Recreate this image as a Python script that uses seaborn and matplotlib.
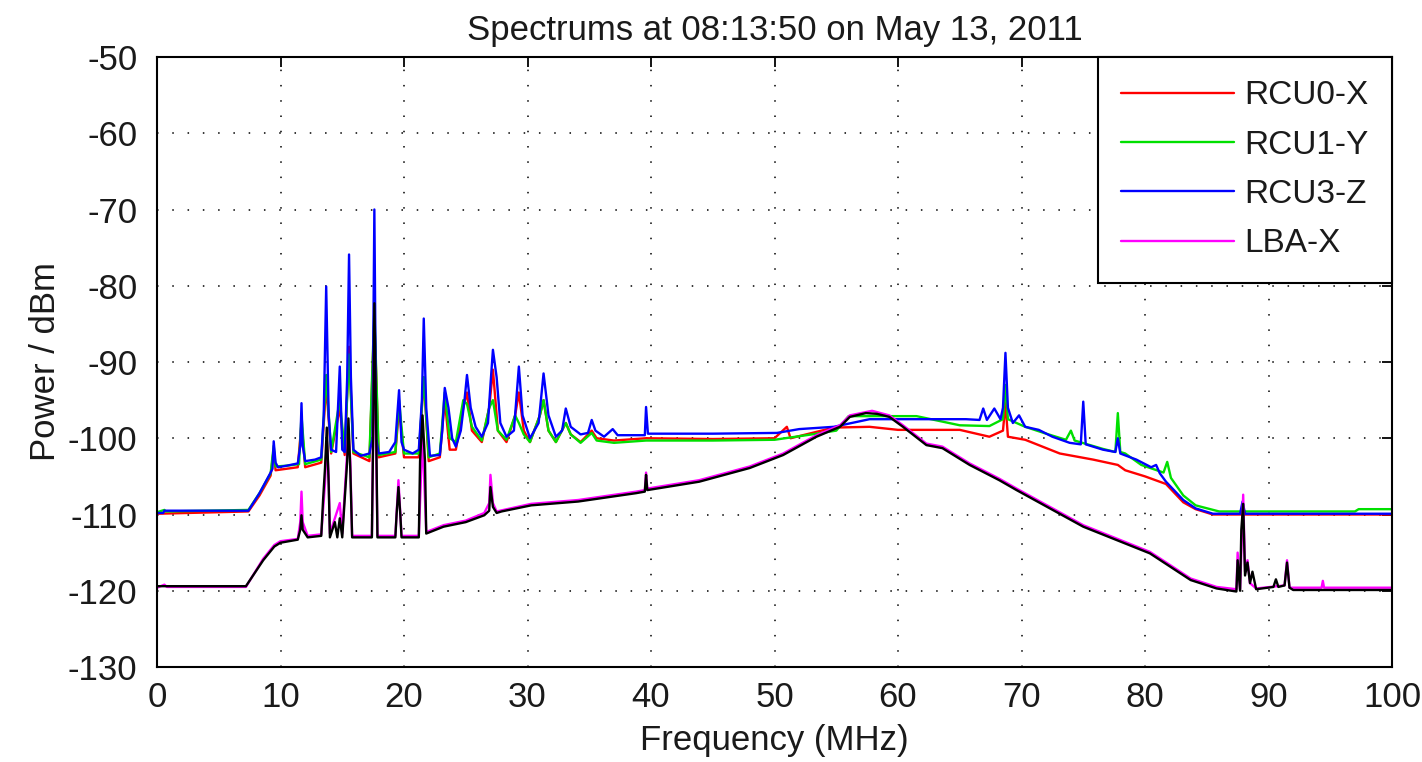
import matplotlib
matplotlib.use("Agg")
import matplotlib.pyplot as plt
import seaborn as sns
import pandas as pd

# ---------------- data: (frequency MHz, power dBm) ----------------
rcu0_x_points = [
    (0, -109.9), (7.4, -109.6), (8.3, -107.5), (9.2, -104.9), (9.45, -101.5), (9.6, -104.2),
    (10.5, -104.0), (11.4, -103.8), (11.7, -98.0), (12.0, -103.8), (13.3, -103.2), (13.7, -93.0),
    (14.1, -102.0), (14.8, -96.0), (15.2, -102.2), (15.55, -88.0), (15.9, -102.0), (17.2, -103.0),
    (17.6, -84.0), (17.95, -102.5), (19.3, -102.0), (19.6, -96.0), (20.0, -102.5), (21.2, -102.5),
    (21.6, -92.0), (22.0, -103.0), (22.9, -102.5), (23.3, -95.0), (23.7, -101.5), (24.2, -101.5),
    (24.8, -96.0), (25.1, -94.0), (25.5, -99.0), (26.3, -100.5), (26.9, -96.0), (27.2, -91.0),
    (27.6, -99.0), (28.3, -100.5), (29.0, -97.0), (29.3, -94.0), (29.7, -99.0), (30.2, -100.5),
    (31.0, -97.0), (31.3, -95.0), (31.7, -99.0), (32.3, -100.5), (33.1, -98.0), (33.5, -99.5),
    (34.3, -100.5), (35.2, -99.0), (35.6, -100.0), (37.0, -100.3), (39.6, -100.0), (45.0, -100.1),
    (50.0, -100.0), (51.0, -98.5), (51.3, -100.0), (54.8, -98.6), (57.7, -98.5), (60.0, -98.9),
    (65.0, -98.9), (67.4, -99.8), (68.5, -99.0), (68.7, -95.4), (68.9, -99.8), (70.3, -100.2),
    (73.1, -102.0), (75.8, -102.8), (77.8, -103.5), (78.4, -104.2), (80.0, -105.0), (81.7, -106.0),
    (83.1, -108.4), (84.1, -109.3), (85.5, -110.0), (100.0, -110.0),
]

rcu1_y_points = [
    (0, -109.7), (0.6, -109.4), (0.7, -109.6), (7.4, -109.4), (8.3, -107.2), (9.2, -104.6),
    (9.45, -101.0), (9.6, -103.7), (10.5, -103.6), (11.5, -103.4), (11.7, -97.0), (12.0, -103.4),
    (13.3, -102.8), (13.7, -91.7), (14.1, -101.8), (14.8, -95.0), (15.2, -101.8), (15.55, -89.0),
    (15.9, -101.8), (17.2, -102.5), (17.6, -83.0), (17.95, -102.2), (19.3, -101.8), (19.6, -95.0),
    (20.0, -102.0), (21.2, -102.0), (21.6, -92.0), (22.0, -102.5), (22.9, -102.0), (23.3, -94.0),
    (23.7, -100.0), (24.2, -100.5), (24.8, -95.0), (25.1, -95.5), (25.5, -98.5), (26.3, -100.3),
    (26.9, -96.0), (27.2, -95.0), (27.6, -99.0), (28.3, -100.2), (29.0, -97.0), (29.3, -98.0),
    (29.7, -99.5), (30.2, -100.5), (31.0, -97.0), (31.3, -95.0), (31.7, -99.0), (32.3, -100.5),
    (33.1, -98.0), (33.5, -99.5), (34.3, -100.6), (35.2, -99.3), (35.6, -100.3), (37.0, -100.6),
    (39.6, -100.3), (45.0, -100.3), (50.0, -100.2), (53.0, -99.5), (55.0, -99.0), (56.0, -97.1),
    (61.5, -97.1), (65.0, -98.3), (67.4, -98.4), (68.5, -97.5), (68.7, -93.0), (68.9, -97.5),
    (70.3, -98.5), (71.8, -99.3), (73.6, -100.2), (74.0, -99.0), (74.3, -100.3), (76.6, -101.4),
    (77.6, -101.8), (77.8, -96.7), (78.0, -101.8), (78.4, -102.0), (79.7, -103.5), (81.5, -104.5),
    (81.8, -103.1), (82.1, -105.2), (83.1, -107.5), (84.1, -108.8), (86.0, -109.6), (97.0, -109.6),
    (97.3, -109.3), (100.0, -109.3),
]

rcu3_z_points = [
    (0, -109.8), (0.5, -109.8), (0.6, -109.5), (7.4, -109.5), (8.3, -107.2), (9.2, -104.5),
    (9.35, -104.0), (9.45, -100.4), (9.6, -103.2), (9.8, -103.8), (10.5, -103.6), (11.4, -103.3),
    (11.6, -101.0), (11.7, -95.4), (11.8, -101.0), (12.0, -103.0), (12.8, -102.8), (13.3, -102.5),
    (13.5, -97.0), (13.7, -80.1), (13.9, -97.0), (14.1, -101.5), (14.5, -101.8), (14.8, -90.6),
    (15.0, -101.5), (15.2, -101.8), (15.4, -92.0), (15.55, -75.9), (15.7, -92.0), (15.9, -101.5),
    (16.5, -102.3), (17.2, -102.0), (17.45, -100.0), (17.6, -70.0), (17.75, -100.0), (17.95, -102.0),
    (18.8, -101.8), (19.3, -100.5), (19.6, -93.7), (19.8, -100.5), (20.0, -101.5), (20.7, -102.0),
    (21.2, -101.5), (21.45, -95.0), (21.6, -84.3), (21.8, -96.0), (22.1, -102.3), (22.9, -102.2),
    (23.1, -99.0), (23.3, -93.4), (23.6, -96.0), (23.9, -100.0), (24.2, -101.1), (24.6, -99.0),
    (24.9, -95.0), (25.1, -91.7), (25.4, -96.0), (25.8, -98.5), (26.3, -99.8), (26.8, -98.0),
    (27.0, -93.0), (27.2, -88.4), (27.5, -92.0), (27.8, -98.0), (28.3, -99.8), (28.9, -99.0),
    (29.3, -90.6), (29.6, -97.0), (30.2, -100.0), (30.9, -98.0), (31.3, -91.5), (31.7, -97.0),
    (32.3, -99.8), (32.8, -99.0), (33.1, -96.1), (33.5, -98.5), (34.3, -99.5), (34.9, -99.3),
    (35.2, -97.6), (35.5, -99.0), (36.2, -99.8), (36.9, -98.8), (37.3, -99.6), (39.5, -99.6),
    (39.6, -95.9), (39.75, -99.4), (45.0, -99.4), (50.2, -99.3), (52.0, -98.8), (54.8, -98.5),
    (57.7, -97.5), (60.0, -97.5), (65.5, -97.5), (66.6, -97.6), (66.9, -96.1), (67.2, -97.6),
    (67.8, -96.1), (68.3, -97.5), (68.5, -96.0), (68.7, -88.8), (68.9, -96.0), (69.3, -98.0),
    (69.8, -97.0), (70.3, -98.5), (71.4, -98.9), (72.5, -99.8), (73.9, -100.6), (74.8, -100.8),
    (75.0, -95.2), (75.2, -100.8), (76.6, -101.5), (77.6, -101.8), (77.8, -100.0), (78.0, -102.0),
    (79.3, -102.8), (80.5, -103.8), (80.9, -103.5), (81.2, -104.6), (81.7, -105.7), (83.1, -108.1),
    (84.1, -109.2), (85.5, -109.9), (87.7, -109.9), (87.9, -108.3), (88.1, -109.9), (100.0, -109.9),
]

lba_x_points = [
    (0, -119.6), (0.6, -119.2), (0.8, -119.5), (7.2, -119.5), (8.6, -115.8), (9.5, -114.0),
    (10.0, -113.5), (11.4, -113.2), (11.6, -111.0), (11.7, -107.0), (11.8, -111.0), (12.2, -112.8),
    (13.3, -112.6), (13.6, -106.0), (13.75, -100.0), (13.9, -105.0), (14.0, -112.5), (14.8, -108.5),
    (15.0, -112.5), (15.3, -104.5), (15.5, -99.0), (15.65, -103.0), (15.8, -112.8), (17.4, -112.8),
    (17.6, -86.0), (17.85, -112.8), (19.3, -112.8), (19.55, -105.5), (19.8, -112.8), (21.2, -112.8),
    (21.5, -99.5), (21.8, -112.3), (23.2, -111.4), (25.0, -110.8), (26.5, -109.8), (26.9, -108.5),
    (27.0, -104.8), (27.2, -108.5), (27.5, -109.6), (30.3, -108.6), (34.1, -108.1), (38.8, -107.0),
    (39.5, -106.8), (39.6, -104.5), (39.7, -106.6), (43.9, -105.5), (48.0, -103.7), (50.7, -102.0),
    (53.4, -99.6), (55.3, -98.3), (56.1, -97.0), (57.9, -96.4), (59.3, -97.0), (60.4, -98.3),
    (62.3, -100.7), (63.6, -101.1), (65.8, -103.3), (68.2, -105.3), (69.6, -106.6), (75.0, -111.4),
    (80.4, -114.9), (83.7, -118.4), (85.8, -119.5), (87.4, -119.8), (87.5, -115.0), (87.7, -119.8),
    (87.95, -107.4), (88.1, -117.5), (88.3, -116.0), (88.5, -119.0), (89.0, -119.7), (91.3, -119.3),
    (91.5, -116.0), (91.7, -119.6), (94.3, -119.6), (94.4, -118.7), (94.5, -119.6), (100.0, -119.6),
]

extra_black_points = [
    (0, -119.4), (7.2, -119.4), (8.6, -116.0), (9.5, -114.2), (10.0, -113.7), (11.4, -113.3),
    (11.6, -112.0), (11.7, -110.1), (11.8, -112.0), (12.2, -113.0), (13.3, -112.8), (13.45, -108.0),
    (13.6, -104.0), (13.75, -98.6), (13.9, -106.0), (14.0, -113.0), (14.4, -111.0), (14.6, -113.0),
    (14.8, -110.5), (15.0, -113.0), (15.2, -108.0), (15.4, -103.0), (15.5, -97.4), (15.65, -104.0),
    (15.8, -113.0), (17.4, -113.0), (17.5, -100.0), (17.6, -82.3), (17.75, -99.0), (17.85, -113.0),
    (19.3, -113.0), (19.4, -110.0), (19.55, -106.4), (19.7, -110.0), (19.8, -113.0), (21.2, -113.0),
    (21.3, -103.0), (21.5, -97.0), (21.7, -103.0), (21.8, -112.5), (23.2, -111.6), (25.0, -111.0),
    (26.5, -110.1), (26.9, -109.5), (27.0, -106.4), (27.2, -109.0), (27.5, -109.8), (27.9, -109.6),
    (30.3, -108.8), (34.1, -108.3), (38.8, -107.2), (39.5, -107.0), (39.6, -104.8), (39.7, -106.8),
    (43.9, -105.7), (48.0, -103.9), (50.7, -102.2), (53.4, -99.8), (55.3, -98.5), (56.1, -97.2),
    (57.4, -96.7), (58.3, -96.8), (59.3, -97.2), (60.4, -98.5), (62.3, -100.9), (63.6, -101.3),
    (65.8, -103.5), (68.2, -105.5), (69.6, -106.8), (75.0, -111.6), (80.4, -115.1), (83.7, -118.6),
    (85.8, -119.7), (87.4, -120.1), (87.5, -116.0), (87.7, -120.0), (87.8, -112.0), (87.95, -108.6),
    (88.1, -118.0), (88.3, -116.3), (88.5, -119.0), (88.7, -117.5), (89.0, -119.8), (90.4, -119.5),
    (90.6, -118.5), (90.8, -119.5), (91.3, -119.3), (91.5, -116.3), (91.7, -119.6), (92.0, -119.9),
    (100.0, -119.9),
]

series_labels = ["RCU0-X", "RCU1-Y", "RCU3-Z", "LBA-X", None]
series_colors = ["#ff0000", "#00e000", "#0000ff", "#ff00ff", "#000000"]
x_ticks = list(range(0, 101, 10))
y_ticks = list(range(-130, -49, 10))
title_text = "Spectrums at 08:13:50 on May 13, 2011"
x_label = "Frequency (MHz)"
y_label = "Power / dBm"

# ---------------- drawing ----------------
sns.set_style("white")
plt.rcParams['font.family'] = ['Liberation Sans', 'DejaVu Sans']
plt.rcParams['axes.unicode_minus'] = False
text_color = "#1a1a1a"

fig = plt.figure(figsize=(14.22, 7.62), dpi=100)
ax = fig.add_axes([157 / 1422, 1 - 667 / 762, (1392 - 157) / 1422, (667 - 57) / 762])

all_points = [rcu0_x_points, rcu1_y_points, rcu3_z_points, lba_x_points, extra_black_points]
handles = []
for pts, lab, col in zip(all_points, series_labels, series_colors):
    df = pd.DataFrame(pts, columns=["freq", "dbm"])
    n_before = len(ax.lines)
    sns.lineplot(data=df, x="freq", y="dbm", color=col, linewidth=1.7, ax=ax,
                 estimator=None, sort=False, legend=False)
    if lab is not None:
        handles.append((ax.lines[n_before], lab))

ax.set_xlim(0, 100)
ax.set_ylim(-130, -50)
ax.set_xticks(x_ticks)
ax.set_yticks(y_ticks)
ax.grid(True, color="black", linestyle=(0, (1, 9)), linewidth=1.1)
ax.set_axisbelow(True)

for sp in ax.spines.values():
    sp.set_visible(True)
    sp.set_color("black")
    sp.set_linewidth(1.5)

ax.tick_params(direction="in", length=7, width=1.3, top=True, right=True,
               labelsize=25, labelcolor=text_color, color="black")
ax.tick_params(axis="x", pad=10)
ax.tick_params(axis="y", pad=14)

ax.set_title(title_text, fontsize=25, color=text_color, pad=12)
ax.set_xlabel(x_label, fontsize=25, color=text_color, labelpad=7)
ax.set_ylabel(y_label, fontsize=25, color=text_color, labelpad=4)

leg = ax.legend([h for h, _ in handles], [l for _, l in handles],
                loc="upper right", bbox_to_anchor=(1, 1), borderaxespad=0,
                fontsize=24, handlelength=3.4, handletextpad=0.3, labelspacing=0.55,
                borderpad=0.7, fancybox=False, framealpha=1, edgecolor="black")
leg.get_frame().set_linewidth(1.5)
for t in leg.get_texts():
    t.set_color(text_color)

fig.savefig("out.png", dpi=100)
